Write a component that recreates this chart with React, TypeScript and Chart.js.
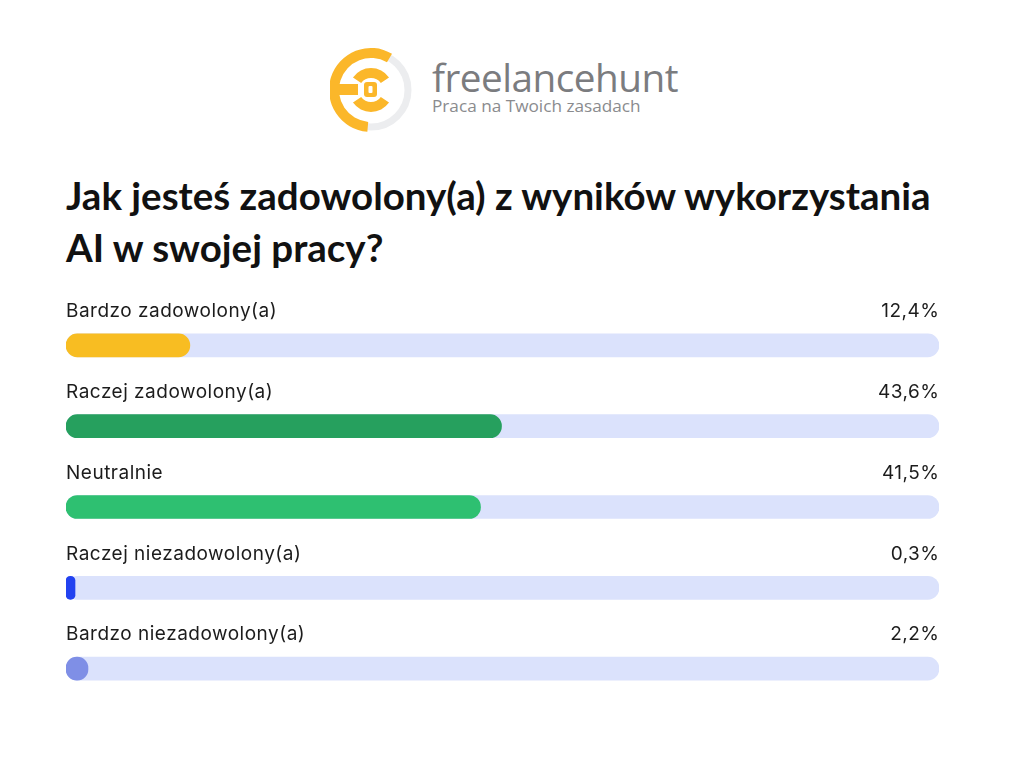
import React, { useEffect, useRef } from "react";
import { Chart, registerables } from "chart.js";

Chart.register(...registerables);

const categories = [
  "Bardzo zadowolony(a)",
  "Raczej zadowolony(a)",
  "Neutralnie",
  "Raczej niezadowolony(a)",
  "Bardzo niezadowolony(a)",
];
const values = [12.4, 43.6, 41.5, 0.3, 2.2];
const valueLabels = ["12,4%", "43,6%", "41,5%", "0,3%", "2,2%"];
const barColors = ["#F8BD22", "#26A05E", "#2EC071", "#2242F0", "#7F8FE6"];
const trackMax = 87.4;
const trackValues = [trackMax, trackMax, trackMax, trackMax, trackMax];

const labelPlugin = {
  id: "rowLabels",
  afterDatasetsDraw(chart: any) {
    const { ctx, chartArea } = chart;
    const meta = chart.getDatasetMeta(0);
    ctx.save();
    ctx.font = "400 19px Inter";
    (ctx as any).letterSpacing = "0.5px";
    ctx.fillStyle = "#1c1c1c";
    ctx.textBaseline = "middle";
    meta.data.forEach((bar: any, i: number) => {
      const y = bar.y - 34;
      ctx.textAlign = "left";
      ctx.fillText(categories[i], chartArea.left, y);
      ctx.textAlign = "right";
      ctx.fillText(valueLabels[i], chartArea.right + 0.5, y);
    });
    ctx.restore();
  },
};

function Logo() {
  const cx = 41;
  const cy = 42;
  const arc = (r1: number, r2: number, a1: number, a2: number) => {
    const rad = (a: number) => (a * Math.PI) / 180;
    const p = (r: number, a: number) => [cx + r * Math.cos(rad(a)), cy + r * Math.sin(rad(a))];
    const [x1, y1] = p(r2, a1);
    const [x2, y2] = p(r2, a2);
    const [x3, y3] = p(r1, a2);
    const [x4, y4] = p(r1, a1);
    const large = Math.abs(a2 - a1) > 180 ? 1 : 0;
    return `M${x1},${y1} A${r2},${r2} 0 ${large} 1 ${x2},${y2} L${x3},${y3} A${r1},${r1} 0 ${large} 0 ${x4},${y4} Z`;
  };
  return (
    <svg width="84" height="86" style={{ position: "absolute", left: 330, top: 48 }}>
      <circle cx={cx} cy={cy} r={37} fill="none" stroke="#ECEDEF" strokeWidth={7} />
      <path d={arc(32, 42, 95, 300)} fill="#FBB72A" />
      <rect x={2} y={36} width={26} height={11} fill="#FBB72A" />
      <rect x={34} y={34} width={13} height={15} rx={3} fill="#FBB72A" />
      <rect x={38.5} y={38} width={4} height={7} rx={1} fill="#fff" />
      <path d={arc(12, 22, 215, 325)} fill="#FBB72A" />
      <path d={arc(12, 22, 35, 145)} fill="#FBB72A" />
    </svg>
  );
}

export default function App() {
  const ref = useRef<HTMLCanvasElement | null>(null);
  useEffect(() => {
    if (!ref.current) return;
    const chart = new Chart(ref.current, {
      type: "bar",
      data: {
        labels: categories,
        datasets: [
          {
            data: values,
            backgroundColor: barColors,
            borderRadius: 12,
            borderSkipped: false,
            barThickness: 23,
            grouped: false,
            minBarLength: 9,
          },
          {
            data: trackValues,
            backgroundColor: "#DBE2FC",
            borderRadius: 12,
            borderSkipped: false,
            barThickness: 23,
            grouped: false,
          },
        ],
      },
      options: {
        indexAxis: "y",
        animation: false,
        responsive: false,
        events: [],
        layout: { padding: { left: 66, right: 85, top: 15, bottom: 11 } },
        plugins: { legend: { display: false }, tooltip: { enabled: false }, title: { display: false } },
        scales: {
          x: { display: false, min: 0, max: trackMax },
          y: { display: false },
        },
      },
      plugins: [labelPlugin],
    });
    return () => chart.destroy();
  }, []);

  return (
    <div style={{ position: "relative", width: 1024, height: 769, background: "#fff", margin: -8, overflow: "hidden" }}>
      <Logo />
      <div style={{ position: "absolute", left: 432, top: 53, fontFamily: "'Open Sans'", fontWeight: 400, fontSize: 38.7, color: "#7B7C7F", letterSpacing: -0.5, lineHeight: "48px" }}>
        freelancehunt
      </div>
      <div style={{ position: "absolute", left: 432, top: 95, fontFamily: "'Open Sans'", fontSize: 17.2, color: "#8A8B8E", lineHeight: "22px" }}>
        Praca na Twoich zasadach
      </div>
      <div style={{ position: "absolute", left: 66, top: 169, width: 940, fontFamily: "Lato", fontWeight: 700, fontSize: 38.5, color: "#111", lineHeight: "52px", whiteSpace: "nowrap" }}>
        Jak jesteś zadowolony(a) z wyników wykorzystania<br />AI w swojej pracy?
      </div>
      <canvas ref={ref} width={1024} height={430} style={{ position: "absolute", left: 0, top: 290 }} />
    </div>
  );
}
